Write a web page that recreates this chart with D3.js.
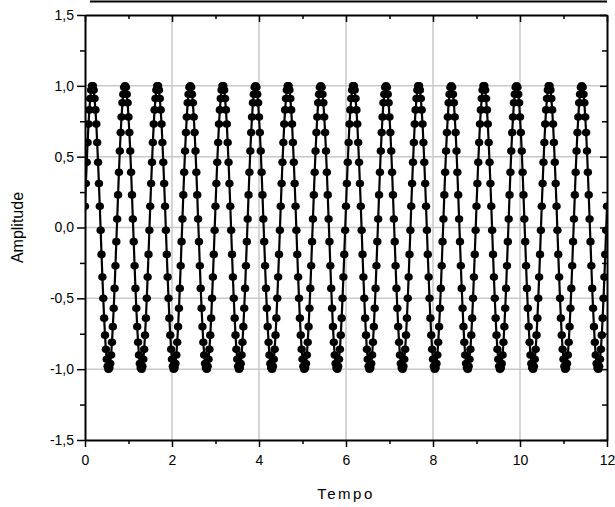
<!DOCTYPE html>
<html>
<head>
<meta charset="utf-8">
<script src="https://cdn.jsdelivr.net/npm/d3@7"></script>
<style>
  html, body { margin: 0; padding: 0; background: #fff; }
  svg { display: block; font-family: "Liberation Sans", Arial, sans-serif; }
</style>
</head>
<body>
<svg id="chart" width="615" height="507"></svg>
<script>
// ---------------- data ----------------
const xTitle = "Tempo";
const yTitle = "Amplitude";
const xTicks = [0, 2, 4, 6, 8, 10, 12];
const xMinorTicks = [1, 3, 5, 7, 9, 11];
const yTicks = [-1.5, -1.0, -0.5, 0.0, 0.5, 1.0, 1.5];
const yMinorTicks = [-1.25, -0.75, -0.25, 0.25, 0.75, 1.25];
const xDomain = [0, 12];
const yDomain = [-1.5, 1.5];
const sampleStart = 0;      // Tempo of first sample
const sampleInterval = 0.02; // Tempo between samples
const amplitude = [
0.15,0.31,0.46,0.60,0.73,0.83,0.91,0.97,1.00,1.00,0.97,0.91,0.83,0.73,0.60,0.46,0.31,0.15,-0.02,-0.19,-0.35,-0.50,-0.64,-0.76,-0.86,-0.93,-0.98,-1.00,-0.99,-0.96,-0.90,-0.81,-0.70,-0.57,-0.43,-0.27,-0.10,0.06,0.23,0.39,0.54,0.67,0.78,0.88,0.94,0.99,1.00,0.99,0.94,0.88,0.78,0.67,0.54,0.39,0.23,0.06,-0.10,-0.27,-0.43,-0.57,-0.70,-0.81,-0.90,-0.96,-0.99,-1.00,-0.98,-0.93,-0.86,-0.76,-0.64,-0.50,-0.35,-0.19,-0.02,
0.15,0.31,0.46,0.60,0.73,0.83,0.91,0.97,1.00,1.00,0.97,0.91,0.83,0.73,0.60,0.46,0.31,0.15,-0.02,-0.19,-0.35,-0.50,-0.64,-0.76,-0.86,-0.93,-0.98,-1.00,-0.99,-0.96,-0.90,-0.81,-0.70,-0.57,-0.43,-0.27,-0.10,0.06,0.23,0.39,0.54,0.67,0.78,0.88,0.94,0.99,1.00,0.99,0.94,0.88,0.78,0.67,0.54,0.39,0.23,0.06,-0.10,-0.27,-0.43,-0.57,-0.70,-0.81,-0.90,-0.96,-0.99,-1.00,-0.98,-0.93,-0.86,-0.76,-0.64,-0.50,-0.35,-0.19,-0.02,
0.15,0.31,0.46,0.60,0.73,0.83,0.91,0.97,1.00,1.00,0.97,0.91,0.83,0.73,0.60,0.46,0.31,0.15,-0.02,-0.19,-0.35,-0.50,-0.64,-0.76,-0.86,-0.93,-0.98,-1.00,-0.99,-0.96,-0.90,-0.81,-0.70,-0.57,-0.43,-0.27,-0.10,0.06,0.23,0.39,0.54,0.67,0.78,0.88,0.94,0.99,1.00,0.99,0.94,0.88,0.78,0.67,0.54,0.39,0.23,0.06,-0.10,-0.27,-0.43,-0.57,-0.70,-0.81,-0.90,-0.96,-0.99,-1.00,-0.98,-0.93,-0.86,-0.76,-0.64,-0.50,-0.35,-0.19,-0.02,
0.15,0.31,0.46,0.60,0.73,0.83,0.91,0.97,1.00,1.00,0.97,0.91,0.83,0.73,0.60,0.46,0.31,0.15,-0.02,-0.19,-0.35,-0.50,-0.64,-0.76,-0.86,-0.93,-0.98,-1.00,-0.99,-0.96,-0.90,-0.81,-0.70,-0.57,-0.43,-0.27,-0.10,0.06,0.23,0.39,0.54,0.67,0.78,0.88,0.94,0.99,1.00,0.99,0.94,0.88,0.78,0.67,0.54,0.39,0.23,0.06,-0.10,-0.27,-0.43,-0.57,-0.70,-0.81,-0.90,-0.96,-0.99,-1.00,-0.98,-0.93,-0.86,-0.76,-0.64,-0.50,-0.35,-0.19,-0.02,
0.15,0.31,0.46,0.60,0.73,0.83,0.91,0.97,1.00,1.00,0.97,0.91,0.83,0.73,0.60,0.46,0.31,0.15,-0.02,-0.19,-0.35,-0.50,-0.64,-0.76,-0.86,-0.93,-0.98,-1.00,-0.99,-0.96,-0.90,-0.81,-0.70,-0.57,-0.43,-0.27,-0.10,0.06,0.23,0.39,0.54,0.67,0.78,0.88,0.94,0.99,1.00,0.99,0.94,0.88,0.78,0.67,0.54,0.39,0.23,0.06,-0.10,-0.27,-0.43,-0.57,-0.70,-0.81,-0.90,-0.96,-0.99,-1.00,-0.98,-0.93,-0.86,-0.76,-0.64,-0.50,-0.35,-0.19,-0.02,
0.15,0.31,0.46,0.60,0.73,0.83,0.91,0.97,1.00,1.00,0.97,0.91,0.83,0.73,0.60,0.46,0.31,0.15,-0.02,-0.19,-0.35,-0.50,-0.64,-0.76,-0.86,-0.93,-0.98,-1.00,-0.99,-0.96,-0.90,-0.81,-0.70,-0.57,-0.43,-0.27,-0.10,0.06,0.23,0.39,0.54,0.67,0.78,0.88,0.94,0.99,1.00,0.99,0.94,0.88,0.78,0.67,0.54,0.39,0.23,0.06,-0.10,-0.27,-0.43,-0.57,-0.70,-0.81,-0.90,-0.96,-0.99,-1.00,-0.98,-0.93,-0.86,-0.76,-0.64,-0.50,-0.35,-0.19,-0.02,
0.15,0.31,0.46,0.60,0.73,0.83,0.91,0.97,1.00,1.00,0.97,0.91,0.83,0.73,0.60,0.46,0.31,0.15,-0.02,-0.19,-0.35,-0.50,-0.64,-0.76,-0.86,-0.93,-0.98,-1.00,-0.99,-0.96,-0.90,-0.81,-0.70,-0.57,-0.43,-0.27,-0.10,0.06,0.23,0.39,0.54,0.67,0.78,0.88,0.94,0.99,1.00,0.99,0.94,0.88,0.78,0.67,0.54,0.39,0.23,0.06,-0.10,-0.27,-0.43,-0.57,-0.70,-0.81,-0.90,-0.96,-0.99,-1.00,-0.98,-0.93,-0.86,-0.76,-0.64,-0.50,-0.35,-0.19,-0.02,
0.15,0.31,0.46,0.60,0.73,0.83,0.91,0.97,1.00,1.00,0.97,0.91,0.83,0.73,0.60,0.46,0.31,0.15,-0.02,-0.19,-0.35,-0.50,-0.64,-0.76,-0.86,-0.93,-0.98,-1.00,-0.99,-0.96,-0.90,-0.81,-0.70,-0.57,-0.43,-0.27,-0.10,0.06,0.23,0.39,0.54,0.67,0.78,0.88,0.94,0.99,1.00,0.99,0.94,0.88,0.78,0.67,0.54,0.39,0.23,0.06,-0.10,-0.27,-0.43,-0.57,-0.70,-0.81,-0.90,-0.96,-0.99,-1.00,-0.98,-0.93,-0.86,-0.76,-0.64,-0.50,-0.35,-0.19,-0.02,
0.15
];

// ---------------- layout ----------------
const W = 615, H = 507;
const plot = { left: 85, right: 607, top: 15, bottom: 440 };

const svg = d3.select("#chart");
const x = d3.scaleLinear().domain(xDomain).range([plot.left, plot.right]);
const y = d3.scaleLinear().domain(yDomain).range([plot.bottom, plot.top]);

const fmtY = v => d3.format(".1f")(v).replace(".", ",").replace("−", "-");

const points = amplitude.map((v, i) => ({ t: sampleStart + i * sampleInterval, v }));

// title frame remnant at top
svg.append("line")
  .attr("x1", 90).attr("x2", 607).attr("y1", 1.5).attr("y2", 1.5)
  .attr("stroke", "#000").attr("stroke-width", 2);

// grid
const grid = svg.append("g").attr("stroke", "#c8c8c8").attr("stroke-width", 1.5);
grid.selectAll("line.gx").data(xTicks.filter(d => d > xDomain[0] && d < xDomain[1]))
  .join("line").attr("class", "gx")
  .attr("x1", d => x(d)).attr("x2", d => x(d))
  .attr("y1", plot.top).attr("y2", plot.bottom);
grid.selectAll("line.gy").data(yTicks.filter(d => d > yDomain[0] && d < yDomain[1]))
  .join("line").attr("class", "gy")
  .attr("y1", d => y(d)).attr("y2", d => y(d))
  .attr("x1", plot.left).attr("x2", plot.right);

// clip
svg.append("defs").append("clipPath").attr("id", "clip")
  .append("rect").attr("x", plot.left).attr("y", plot.top - 10)
  .attr("width", plot.right - plot.left).attr("height", plot.bottom - plot.top + 20);

const dataG = svg.append("g").attr("clip-path", "url(#clip)");
const line = d3.line().x(d => x(d.t)).y(d => y(d.v));
dataG.append("path").datum(points)
  .attr("d", line).attr("fill", "none")
  .attr("stroke", "#000").attr("stroke-width", 2.2);
dataG.selectAll("ellipse").data(points).join("ellipse")
  .attr("cx", d => x(d.t)).attr("cy", d => y(d.v))
  .attr("rx", 4.2).attr("ry", 3.8).attr("fill", "#000");

// axes
function styleAxis(g) {
  g.select(".domain").attr("stroke", "#000").attr("stroke-width", 2);
  g.selectAll(".tick line").attr("stroke", "#000").attr("stroke-width", 1.5);
  g.selectAll(".tick text").attr("fill", "#000").style("font-size", "14px")
   .style("font-family", "'Liberation Sans', Arial, sans-serif");
}

// bottom
const gB = svg.append("g").attr("transform", `translate(0,${plot.bottom})`)
  .call(d3.axisBottom(x).tickValues(xTicks).tickSize(7).tickSizeOuter(0).tickPadding(8).tickFormat(d3.format("d")));
styleAxis(gB);
svg.append("g").attr("transform", `translate(0,${plot.bottom})`)
  .call(d3.axisBottom(x).tickValues(xMinorTicks).tickSize(4).tickFormat(""))
  .call(g => { g.select(".domain").remove(); g.selectAll("line").attr("stroke", "#000").attr("stroke-width", 1.5); });

// top
const gT = svg.append("g").attr("transform", `translate(0,${plot.top})`)
  .call(d3.axisBottom(x).tickValues(xTicks).tickSize(7).tickSizeOuter(0).tickFormat(""));
styleAxis(gT);
svg.append("g").attr("transform", `translate(0,${plot.top})`)
  .call(d3.axisBottom(x).tickValues(xMinorTicks).tickSize(4).tickFormat(""))
  .call(g => { g.select(".domain").remove(); g.selectAll("line").attr("stroke", "#000").attr("stroke-width", 1.5); });

// left
const gL = svg.append("g").attr("transform", `translate(${plot.left},0)`)
  .call(d3.axisLeft(y).tickValues(yTicks).tickSize(8).tickSizeOuter(0).tickPadding(3).tickFormat(fmtY));
styleAxis(gL);
svg.append("g").attr("transform", `translate(${plot.left},0)`)
  .call(d3.axisLeft(y).tickValues(yMinorTicks).tickSize(5).tickFormat(""))
  .call(g => { g.select(".domain").remove(); g.selectAll("line").attr("stroke", "#000").attr("stroke-width", 1.5); });

// right
const gR = svg.append("g").attr("transform", `translate(${plot.right},0)`)
  .call(d3.axisLeft(y).tickValues(yTicks).tickSize(7).tickSizeOuter(0).tickFormat(""));
styleAxis(gR);
svg.append("g").attr("transform", `translate(${plot.right},0)`)
  .call(d3.axisLeft(y).tickValues(yMinorTicks).tickSize(5).tickFormat(""))
  .call(g => { g.select(".domain").remove(); g.selectAll("line").attr("stroke", "#000").attr("stroke-width", 1.5); });

// titles
svg.append("text")
  .attr("x", (plot.left + plot.right) / 2).attr("y", 499)
  .attr("text-anchor", "middle")
  .style("font-size", "15px").style("letter-spacing", "2.5px")
  .text(xTitle);
svg.append("text")
  .attr("transform", `translate(23,${(plot.top + plot.bottom) / 2}) rotate(-90)`)
  .attr("text-anchor", "middle")
  .style("font-size", "16px")
  .text(yTitle);
</script>
</body>
</html>
